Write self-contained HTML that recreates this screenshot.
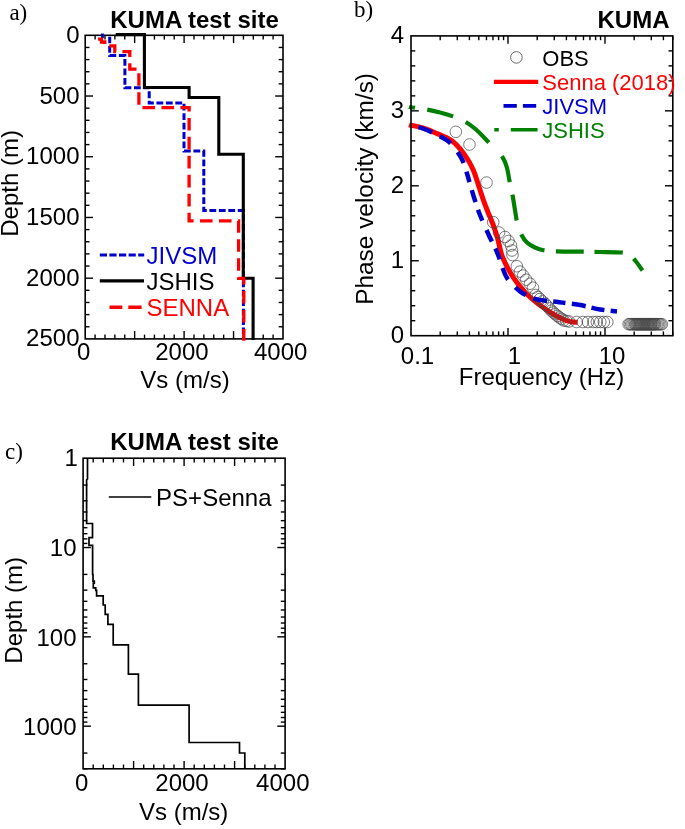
<!DOCTYPE html>
<html><head><meta charset="utf-8"><style>
html,body{margin:0;padding:0;background:#fff;width:685px;height:829px;overflow:hidden}
svg{display:block;will-change:transform}
</style></head><body>
<svg width="685" height="829" viewBox="0 0 685 829">
<rect width="685" height="829" fill="#fff"/>
<line x1="95.09" y1="35.30" x2="95.09" y2="39.60" stroke="#000" stroke-width="1.4"/>
<line x1="95.09" y1="338.90" x2="95.09" y2="334.60" stroke="#000" stroke-width="1.4"/>
<line x1="104.98" y1="35.30" x2="104.98" y2="39.60" stroke="#000" stroke-width="1.4"/>
<line x1="104.98" y1="338.90" x2="104.98" y2="334.60" stroke="#000" stroke-width="1.4"/>
<line x1="114.87" y1="35.30" x2="114.87" y2="39.60" stroke="#000" stroke-width="1.4"/>
<line x1="114.87" y1="338.90" x2="114.87" y2="334.60" stroke="#000" stroke-width="1.4"/>
<line x1="124.76" y1="35.30" x2="124.76" y2="39.60" stroke="#000" stroke-width="1.4"/>
<line x1="124.76" y1="338.90" x2="124.76" y2="334.60" stroke="#000" stroke-width="1.4"/>
<line x1="134.65" y1="35.30" x2="134.65" y2="43.10" stroke="#000" stroke-width="1.4"/>
<line x1="134.65" y1="338.90" x2="134.65" y2="331.10" stroke="#000" stroke-width="1.4"/>
<line x1="144.54" y1="35.30" x2="144.54" y2="39.60" stroke="#000" stroke-width="1.4"/>
<line x1="144.54" y1="338.90" x2="144.54" y2="334.60" stroke="#000" stroke-width="1.4"/>
<line x1="154.43" y1="35.30" x2="154.43" y2="39.60" stroke="#000" stroke-width="1.4"/>
<line x1="154.43" y1="338.90" x2="154.43" y2="334.60" stroke="#000" stroke-width="1.4"/>
<line x1="164.32" y1="35.30" x2="164.32" y2="39.60" stroke="#000" stroke-width="1.4"/>
<line x1="164.32" y1="338.90" x2="164.32" y2="334.60" stroke="#000" stroke-width="1.4"/>
<line x1="174.21" y1="35.30" x2="174.21" y2="39.60" stroke="#000" stroke-width="1.4"/>
<line x1="174.21" y1="338.90" x2="174.21" y2="334.60" stroke="#000" stroke-width="1.4"/>
<line x1="184.10" y1="35.30" x2="184.10" y2="43.10" stroke="#000" stroke-width="1.4"/>
<line x1="184.10" y1="338.90" x2="184.10" y2="331.10" stroke="#000" stroke-width="1.4"/>
<line x1="193.99" y1="35.30" x2="193.99" y2="39.60" stroke="#000" stroke-width="1.4"/>
<line x1="193.99" y1="338.90" x2="193.99" y2="334.60" stroke="#000" stroke-width="1.4"/>
<line x1="203.88" y1="35.30" x2="203.88" y2="39.60" stroke="#000" stroke-width="1.4"/>
<line x1="203.88" y1="338.90" x2="203.88" y2="334.60" stroke="#000" stroke-width="1.4"/>
<line x1="213.77" y1="35.30" x2="213.77" y2="39.60" stroke="#000" stroke-width="1.4"/>
<line x1="213.77" y1="338.90" x2="213.77" y2="334.60" stroke="#000" stroke-width="1.4"/>
<line x1="223.66" y1="35.30" x2="223.66" y2="39.60" stroke="#000" stroke-width="1.4"/>
<line x1="223.66" y1="338.90" x2="223.66" y2="334.60" stroke="#000" stroke-width="1.4"/>
<line x1="233.55" y1="35.30" x2="233.55" y2="43.10" stroke="#000" stroke-width="1.4"/>
<line x1="233.55" y1="338.90" x2="233.55" y2="331.10" stroke="#000" stroke-width="1.4"/>
<line x1="243.44" y1="35.30" x2="243.44" y2="39.60" stroke="#000" stroke-width="1.4"/>
<line x1="243.44" y1="338.90" x2="243.44" y2="334.60" stroke="#000" stroke-width="1.4"/>
<line x1="253.33" y1="35.30" x2="253.33" y2="39.60" stroke="#000" stroke-width="1.4"/>
<line x1="253.33" y1="338.90" x2="253.33" y2="334.60" stroke="#000" stroke-width="1.4"/>
<line x1="263.22" y1="35.30" x2="263.22" y2="39.60" stroke="#000" stroke-width="1.4"/>
<line x1="263.22" y1="338.90" x2="263.22" y2="334.60" stroke="#000" stroke-width="1.4"/>
<line x1="273.11" y1="35.30" x2="273.11" y2="39.60" stroke="#000" stroke-width="1.4"/>
<line x1="273.11" y1="338.90" x2="273.11" y2="334.60" stroke="#000" stroke-width="1.4"/>
<line x1="85.20" y1="47.44" x2="89.50" y2="47.44" stroke="#000" stroke-width="1.4"/>
<line x1="283.00" y1="47.44" x2="278.70" y2="47.44" stroke="#000" stroke-width="1.4"/>
<line x1="85.20" y1="59.59" x2="89.50" y2="59.59" stroke="#000" stroke-width="1.4"/>
<line x1="283.00" y1="59.59" x2="278.70" y2="59.59" stroke="#000" stroke-width="1.4"/>
<line x1="85.20" y1="71.73" x2="89.50" y2="71.73" stroke="#000" stroke-width="1.4"/>
<line x1="283.00" y1="71.73" x2="278.70" y2="71.73" stroke="#000" stroke-width="1.4"/>
<line x1="85.20" y1="83.88" x2="89.50" y2="83.88" stroke="#000" stroke-width="1.4"/>
<line x1="283.00" y1="83.88" x2="278.70" y2="83.88" stroke="#000" stroke-width="1.4"/>
<line x1="85.20" y1="96.02" x2="93.00" y2="96.02" stroke="#000" stroke-width="1.4"/>
<line x1="283.00" y1="96.02" x2="275.20" y2="96.02" stroke="#000" stroke-width="1.4"/>
<line x1="85.20" y1="108.16" x2="89.50" y2="108.16" stroke="#000" stroke-width="1.4"/>
<line x1="283.00" y1="108.16" x2="278.70" y2="108.16" stroke="#000" stroke-width="1.4"/>
<line x1="85.20" y1="120.31" x2="89.50" y2="120.31" stroke="#000" stroke-width="1.4"/>
<line x1="283.00" y1="120.31" x2="278.70" y2="120.31" stroke="#000" stroke-width="1.4"/>
<line x1="85.20" y1="132.45" x2="89.50" y2="132.45" stroke="#000" stroke-width="1.4"/>
<line x1="283.00" y1="132.45" x2="278.70" y2="132.45" stroke="#000" stroke-width="1.4"/>
<line x1="85.20" y1="144.60" x2="89.50" y2="144.60" stroke="#000" stroke-width="1.4"/>
<line x1="283.00" y1="144.60" x2="278.70" y2="144.60" stroke="#000" stroke-width="1.4"/>
<line x1="85.20" y1="156.74" x2="93.00" y2="156.74" stroke="#000" stroke-width="1.4"/>
<line x1="283.00" y1="156.74" x2="275.20" y2="156.74" stroke="#000" stroke-width="1.4"/>
<line x1="85.20" y1="168.88" x2="89.50" y2="168.88" stroke="#000" stroke-width="1.4"/>
<line x1="283.00" y1="168.88" x2="278.70" y2="168.88" stroke="#000" stroke-width="1.4"/>
<line x1="85.20" y1="181.03" x2="89.50" y2="181.03" stroke="#000" stroke-width="1.4"/>
<line x1="283.00" y1="181.03" x2="278.70" y2="181.03" stroke="#000" stroke-width="1.4"/>
<line x1="85.20" y1="193.17" x2="89.50" y2="193.17" stroke="#000" stroke-width="1.4"/>
<line x1="283.00" y1="193.17" x2="278.70" y2="193.17" stroke="#000" stroke-width="1.4"/>
<line x1="85.20" y1="205.32" x2="89.50" y2="205.32" stroke="#000" stroke-width="1.4"/>
<line x1="283.00" y1="205.32" x2="278.70" y2="205.32" stroke="#000" stroke-width="1.4"/>
<line x1="85.20" y1="217.46" x2="93.00" y2="217.46" stroke="#000" stroke-width="1.4"/>
<line x1="283.00" y1="217.46" x2="275.20" y2="217.46" stroke="#000" stroke-width="1.4"/>
<line x1="85.20" y1="229.60" x2="89.50" y2="229.60" stroke="#000" stroke-width="1.4"/>
<line x1="283.00" y1="229.60" x2="278.70" y2="229.60" stroke="#000" stroke-width="1.4"/>
<line x1="85.20" y1="241.75" x2="89.50" y2="241.75" stroke="#000" stroke-width="1.4"/>
<line x1="283.00" y1="241.75" x2="278.70" y2="241.75" stroke="#000" stroke-width="1.4"/>
<line x1="85.20" y1="253.89" x2="89.50" y2="253.89" stroke="#000" stroke-width="1.4"/>
<line x1="283.00" y1="253.89" x2="278.70" y2="253.89" stroke="#000" stroke-width="1.4"/>
<line x1="85.20" y1="266.04" x2="89.50" y2="266.04" stroke="#000" stroke-width="1.4"/>
<line x1="283.00" y1="266.04" x2="278.70" y2="266.04" stroke="#000" stroke-width="1.4"/>
<line x1="85.20" y1="278.18" x2="93.00" y2="278.18" stroke="#000" stroke-width="1.4"/>
<line x1="283.00" y1="278.18" x2="275.20" y2="278.18" stroke="#000" stroke-width="1.4"/>
<line x1="85.20" y1="290.32" x2="89.50" y2="290.32" stroke="#000" stroke-width="1.4"/>
<line x1="283.00" y1="290.32" x2="278.70" y2="290.32" stroke="#000" stroke-width="1.4"/>
<line x1="85.20" y1="302.47" x2="89.50" y2="302.47" stroke="#000" stroke-width="1.4"/>
<line x1="283.00" y1="302.47" x2="278.70" y2="302.47" stroke="#000" stroke-width="1.4"/>
<line x1="85.20" y1="314.61" x2="89.50" y2="314.61" stroke="#000" stroke-width="1.4"/>
<line x1="283.00" y1="314.61" x2="278.70" y2="314.61" stroke="#000" stroke-width="1.4"/>
<line x1="85.20" y1="326.76" x2="89.50" y2="326.76" stroke="#000" stroke-width="1.4"/>
<line x1="283.00" y1="326.76" x2="278.70" y2="326.76" stroke="#000" stroke-width="1.4"/>
<rect x="85.2" y="35.3" width="197.8" height="303.59999999999997" fill="none" stroke="#000" stroke-width="1.6"/>
<path d="M102.4 33.5 V38.2" fill="none" stroke="#0000cc" stroke-width="2.9" stroke-linecap="butt" stroke-linejoin="miter"/>
<path d="M109.7 36.8 V55.6 H124.9 V87.7 H149.2 V103 H184.0 V151 H203.8 V210.5 H243.4 V340" fill="none" stroke="#0000cc" stroke-width="3.0" stroke-linecap="butt" stroke-linejoin="miter" stroke-dasharray="6.8 2.64" stroke-dashoffset="0.34"/>
<path d="M115.7 34.6 H144.4 V87.5 H189.1 V97.5 H218.8 V154.3 H243.3 V278.3 H253.1 V340" fill="none" stroke="#000" stroke-width="3.1" stroke-linecap="butt" stroke-linejoin="miter"/>
<path d="M99.7 37.5 V39.2 H101.5 V42 H104.8 V45.9 H114.8 V51.7 H129.8 V69.2 H138.9 V107.6 H189.1 V220.9 H238.6 V278.3 H243.8 V340.8" fill="none" stroke="#ff0000" stroke-width="3.3" stroke-linecap="butt" stroke-linejoin="miter" stroke-dasharray="12.6 6.38" stroke-dashoffset="-17.95"/>
<text x="79.50" y="42.80" font-family='"Liberation Sans", sans-serif' font-size="24" text-anchor="end" font-weight="normal" fill="#000" >0</text>
<text x="79.50" y="103.52" font-family='"Liberation Sans", sans-serif' font-size="24" text-anchor="end" font-weight="normal" fill="#000" >500</text>
<text x="79.50" y="164.24" font-family='"Liberation Sans", sans-serif' font-size="24" text-anchor="end" font-weight="normal" fill="#000" >1000</text>
<text x="79.50" y="224.96" font-family='"Liberation Sans", sans-serif' font-size="24" text-anchor="end" font-weight="normal" fill="#000" >1500</text>
<text x="79.50" y="285.68" font-family='"Liberation Sans", sans-serif' font-size="24" text-anchor="end" font-weight="normal" fill="#000" >2000</text>
<text x="79.50" y="346.40" font-family='"Liberation Sans", sans-serif' font-size="24" text-anchor="end" font-weight="normal" fill="#000" >2500</text>
<text x="83.70" y="360.40" font-family='"Liberation Sans", sans-serif' font-size="24" text-anchor="middle" font-weight="normal" fill="#000" >0</text>
<text x="181.90" y="360.40" font-family='"Liberation Sans", sans-serif' font-size="24" text-anchor="middle" font-weight="normal" fill="#000" >2000</text>
<text x="280.70" y="360.40" font-family='"Liberation Sans", sans-serif' font-size="24" text-anchor="middle" font-weight="normal" fill="#000" >4000</text>
<text x="185.00" y="388.20" font-family='"Liberation Sans", sans-serif' font-size="24" text-anchor="middle" font-weight="normal" fill="#000" >Vs (m/s)</text>
<text x="0.00" y="0.00" font-family='"Liberation Sans", sans-serif' font-size="24" text-anchor="middle" font-weight="normal" fill="#000" transform="translate(18.1 183.4) rotate(-90)">Depth (m)</text>
<text x="194.50" y="27.70" font-family='"Liberation Sans", sans-serif' font-size="24" text-anchor="middle" font-weight="bold" fill="#000" >KUMA test site</text>
<text x="9.40" y="19.90" font-family='"Liberation Serif", serif' font-size="23" text-anchor="start" font-weight="normal" fill="#000" >a)</text>
<path d="M99.8 255 H144.2" fill="none" stroke="#0000cc" stroke-width="3.2" stroke-linecap="butt" stroke-linejoin="miter" stroke-dasharray="7.2 2.4" stroke-dashoffset="0"/>
<path d="M99.8 280.9 H144" fill="none" stroke="#000" stroke-width="3.3" stroke-linecap="butt" stroke-linejoin="miter"/>
<path d="M109.5 307.2 H122.3 M128.3 307.2 H141.6" fill="none" stroke="#ff0000" stroke-width="3.5" stroke-linecap="butt" stroke-linejoin="miter"/>
<text x="146.50" y="264.00" font-family='"Liberation Sans", sans-serif' font-size="24" text-anchor="start" font-weight="normal" fill="#0000cc" >JIVSM</text>
<text x="146.50" y="290.00" font-family='"Liberation Sans", sans-serif' font-size="24" text-anchor="start" font-weight="normal" fill="#000" >JSHIS</text>
<text x="146.50" y="316.00" font-family='"Liberation Sans", sans-serif' font-size="24" text-anchor="start" font-weight="normal" fill="#ff0000" >SENNA</text>
<line x1="440.20" y1="35.90" x2="440.20" y2="40.20" stroke="#000" stroke-width="1.4"/>
<line x1="440.20" y1="335.70" x2="440.20" y2="331.40" stroke="#000" stroke-width="1.4"/>
<line x1="457.28" y1="35.90" x2="457.28" y2="40.20" stroke="#000" stroke-width="1.4"/>
<line x1="457.28" y1="335.70" x2="457.28" y2="331.40" stroke="#000" stroke-width="1.4"/>
<line x1="469.40" y1="35.90" x2="469.40" y2="40.20" stroke="#000" stroke-width="1.4"/>
<line x1="469.40" y1="335.70" x2="469.40" y2="331.40" stroke="#000" stroke-width="1.4"/>
<line x1="478.80" y1="35.90" x2="478.80" y2="40.20" stroke="#000" stroke-width="1.4"/>
<line x1="478.80" y1="335.70" x2="478.80" y2="331.40" stroke="#000" stroke-width="1.4"/>
<line x1="486.48" y1="35.90" x2="486.48" y2="40.20" stroke="#000" stroke-width="1.4"/>
<line x1="486.48" y1="335.70" x2="486.48" y2="331.40" stroke="#000" stroke-width="1.4"/>
<line x1="492.97" y1="35.90" x2="492.97" y2="40.20" stroke="#000" stroke-width="1.4"/>
<line x1="492.97" y1="335.70" x2="492.97" y2="331.40" stroke="#000" stroke-width="1.4"/>
<line x1="498.60" y1="35.90" x2="498.60" y2="40.20" stroke="#000" stroke-width="1.4"/>
<line x1="498.60" y1="335.70" x2="498.60" y2="331.40" stroke="#000" stroke-width="1.4"/>
<line x1="503.56" y1="35.90" x2="503.56" y2="40.20" stroke="#000" stroke-width="1.4"/>
<line x1="503.56" y1="335.70" x2="503.56" y2="331.40" stroke="#000" stroke-width="1.4"/>
<line x1="508.00" y1="35.90" x2="508.00" y2="43.70" stroke="#000" stroke-width="1.4"/>
<line x1="508.00" y1="335.70" x2="508.00" y2="327.90" stroke="#000" stroke-width="1.4"/>
<line x1="537.20" y1="35.90" x2="537.20" y2="40.20" stroke="#000" stroke-width="1.4"/>
<line x1="537.20" y1="335.70" x2="537.20" y2="331.40" stroke="#000" stroke-width="1.4"/>
<line x1="554.28" y1="35.90" x2="554.28" y2="40.20" stroke="#000" stroke-width="1.4"/>
<line x1="554.28" y1="335.70" x2="554.28" y2="331.40" stroke="#000" stroke-width="1.4"/>
<line x1="566.40" y1="35.90" x2="566.40" y2="40.20" stroke="#000" stroke-width="1.4"/>
<line x1="566.40" y1="335.70" x2="566.40" y2="331.40" stroke="#000" stroke-width="1.4"/>
<line x1="575.80" y1="35.90" x2="575.80" y2="40.20" stroke="#000" stroke-width="1.4"/>
<line x1="575.80" y1="335.70" x2="575.80" y2="331.40" stroke="#000" stroke-width="1.4"/>
<line x1="583.48" y1="35.90" x2="583.48" y2="40.20" stroke="#000" stroke-width="1.4"/>
<line x1="583.48" y1="335.70" x2="583.48" y2="331.40" stroke="#000" stroke-width="1.4"/>
<line x1="589.97" y1="35.90" x2="589.97" y2="40.20" stroke="#000" stroke-width="1.4"/>
<line x1="589.97" y1="335.70" x2="589.97" y2="331.40" stroke="#000" stroke-width="1.4"/>
<line x1="595.60" y1="35.90" x2="595.60" y2="40.20" stroke="#000" stroke-width="1.4"/>
<line x1="595.60" y1="335.70" x2="595.60" y2="331.40" stroke="#000" stroke-width="1.4"/>
<line x1="600.56" y1="35.90" x2="600.56" y2="40.20" stroke="#000" stroke-width="1.4"/>
<line x1="600.56" y1="335.70" x2="600.56" y2="331.40" stroke="#000" stroke-width="1.4"/>
<line x1="605.00" y1="35.90" x2="605.00" y2="43.70" stroke="#000" stroke-width="1.4"/>
<line x1="605.00" y1="335.70" x2="605.00" y2="327.90" stroke="#000" stroke-width="1.4"/>
<line x1="634.20" y1="35.90" x2="634.20" y2="40.20" stroke="#000" stroke-width="1.4"/>
<line x1="634.20" y1="335.70" x2="634.20" y2="331.40" stroke="#000" stroke-width="1.4"/>
<line x1="651.28" y1="35.90" x2="651.28" y2="40.20" stroke="#000" stroke-width="1.4"/>
<line x1="651.28" y1="335.70" x2="651.28" y2="331.40" stroke="#000" stroke-width="1.4"/>
<line x1="663.40" y1="35.90" x2="663.40" y2="40.20" stroke="#000" stroke-width="1.4"/>
<line x1="663.40" y1="335.70" x2="663.40" y2="331.40" stroke="#000" stroke-width="1.4"/>
<line x1="672.80" y1="35.90" x2="672.80" y2="40.20" stroke="#000" stroke-width="1.4"/>
<line x1="672.80" y1="335.70" x2="672.80" y2="331.40" stroke="#000" stroke-width="1.4"/>
<line x1="411.00" y1="320.71" x2="415.30" y2="320.71" stroke="#000" stroke-width="1.4"/>
<line x1="672.80" y1="320.71" x2="668.50" y2="320.71" stroke="#000" stroke-width="1.4"/>
<line x1="411.00" y1="305.72" x2="415.30" y2="305.72" stroke="#000" stroke-width="1.4"/>
<line x1="672.80" y1="305.72" x2="668.50" y2="305.72" stroke="#000" stroke-width="1.4"/>
<line x1="411.00" y1="290.73" x2="415.30" y2="290.73" stroke="#000" stroke-width="1.4"/>
<line x1="672.80" y1="290.73" x2="668.50" y2="290.73" stroke="#000" stroke-width="1.4"/>
<line x1="411.00" y1="275.74" x2="415.30" y2="275.74" stroke="#000" stroke-width="1.4"/>
<line x1="672.80" y1="275.74" x2="668.50" y2="275.74" stroke="#000" stroke-width="1.4"/>
<line x1="411.00" y1="260.75" x2="418.80" y2="260.75" stroke="#000" stroke-width="1.4"/>
<line x1="672.80" y1="260.75" x2="665.00" y2="260.75" stroke="#000" stroke-width="1.4"/>
<line x1="411.00" y1="245.76" x2="415.30" y2="245.76" stroke="#000" stroke-width="1.4"/>
<line x1="672.80" y1="245.76" x2="668.50" y2="245.76" stroke="#000" stroke-width="1.4"/>
<line x1="411.00" y1="230.77" x2="415.30" y2="230.77" stroke="#000" stroke-width="1.4"/>
<line x1="672.80" y1="230.77" x2="668.50" y2="230.77" stroke="#000" stroke-width="1.4"/>
<line x1="411.00" y1="215.78" x2="415.30" y2="215.78" stroke="#000" stroke-width="1.4"/>
<line x1="672.80" y1="215.78" x2="668.50" y2="215.78" stroke="#000" stroke-width="1.4"/>
<line x1="411.00" y1="200.79" x2="415.30" y2="200.79" stroke="#000" stroke-width="1.4"/>
<line x1="672.80" y1="200.79" x2="668.50" y2="200.79" stroke="#000" stroke-width="1.4"/>
<line x1="411.00" y1="185.80" x2="418.80" y2="185.80" stroke="#000" stroke-width="1.4"/>
<line x1="672.80" y1="185.80" x2="665.00" y2="185.80" stroke="#000" stroke-width="1.4"/>
<line x1="411.00" y1="170.81" x2="415.30" y2="170.81" stroke="#000" stroke-width="1.4"/>
<line x1="672.80" y1="170.81" x2="668.50" y2="170.81" stroke="#000" stroke-width="1.4"/>
<line x1="411.00" y1="155.82" x2="415.30" y2="155.82" stroke="#000" stroke-width="1.4"/>
<line x1="672.80" y1="155.82" x2="668.50" y2="155.82" stroke="#000" stroke-width="1.4"/>
<line x1="411.00" y1="140.83" x2="415.30" y2="140.83" stroke="#000" stroke-width="1.4"/>
<line x1="672.80" y1="140.83" x2="668.50" y2="140.83" stroke="#000" stroke-width="1.4"/>
<line x1="411.00" y1="125.84" x2="415.30" y2="125.84" stroke="#000" stroke-width="1.4"/>
<line x1="672.80" y1="125.84" x2="668.50" y2="125.84" stroke="#000" stroke-width="1.4"/>
<line x1="411.00" y1="110.85" x2="418.80" y2="110.85" stroke="#000" stroke-width="1.4"/>
<line x1="672.80" y1="110.85" x2="665.00" y2="110.85" stroke="#000" stroke-width="1.4"/>
<line x1="411.00" y1="95.86" x2="415.30" y2="95.86" stroke="#000" stroke-width="1.4"/>
<line x1="672.80" y1="95.86" x2="668.50" y2="95.86" stroke="#000" stroke-width="1.4"/>
<line x1="411.00" y1="80.87" x2="415.30" y2="80.87" stroke="#000" stroke-width="1.4"/>
<line x1="672.80" y1="80.87" x2="668.50" y2="80.87" stroke="#000" stroke-width="1.4"/>
<line x1="411.00" y1="65.88" x2="415.30" y2="65.88" stroke="#000" stroke-width="1.4"/>
<line x1="672.80" y1="65.88" x2="668.50" y2="65.88" stroke="#000" stroke-width="1.4"/>
<line x1="411.00" y1="50.89" x2="415.30" y2="50.89" stroke="#000" stroke-width="1.4"/>
<line x1="672.80" y1="50.89" x2="668.50" y2="50.89" stroke="#000" stroke-width="1.4"/>
<path d="M409.0 106.9 C409.3 107.0 408.0 106.8 411.0 107.2 C414.0 107.7 422.4 108.7 427.2 109.6 C432.0 110.5 435.7 111.4 440.0 112.5 C444.3 113.6 448.6 114.8 452.9 116.4 C457.2 118.0 461.8 119.8 465.7 122.0 C469.6 124.2 472.8 126.8 476.0 129.5 C479.2 132.2 482.0 135.4 485.0 138.5 C488.0 141.6 491.0 144.8 494.0 148.0 C497.0 151.2 500.8 154.7 503.0 158.0 C505.2 161.3 505.9 164.2 507.0 168.0 C508.1 171.8 508.6 176.5 509.5 181.0 C510.4 185.5 511.5 189.8 512.5 195.0 C513.5 200.2 514.5 207.2 515.3 212.0 C516.1 216.8 516.4 220.1 517.5 224.0 C518.6 227.9 520.1 232.1 521.7 235.2 C523.3 238.3 524.8 240.4 527.0 242.5 C529.2 244.6 532.2 246.2 535.0 247.5 C537.8 248.8 540.1 249.7 543.6 250.3 C547.1 250.9 549.4 251.1 556.0 251.3 C562.6 251.5 575.7 251.6 583.0 251.7 C590.3 251.8 593.6 251.9 600.0 252.0 C606.4 252.1 616.6 251.9 621.6 252.5 C626.6 253.1 627.6 254.0 630.0 255.5 C632.4 257.0 633.9 259.0 636.0 261.5 C638.1 264.0 641.4 269.0 642.5 270.5" fill="none" stroke="#008000" stroke-width="4.2" stroke-linecap="butt" stroke-linejoin="miter" stroke-dasharray="6.25 12.25 26.75 13.75 31.00 18.75 27.50 12.75 26.25 14.50 29.50 11.50 27.75 11.00 28.00 13.00 15.25 2000.00" stroke-dashoffset="0"/>
<path d="M409.0 124.9 C409.3 125.0 409.3 124.9 411.0 125.2 C412.7 125.5 416.1 126.1 419.0 126.9 C421.9 127.7 425.3 128.7 428.4 129.9 C431.5 131.1 434.8 132.7 437.7 133.9 C440.6 135.1 443.6 136.1 445.9 137.2 C448.2 138.3 449.6 139.2 451.5 140.6 C453.4 142.0 455.3 143.7 457.3 145.8 C459.3 147.9 461.7 150.8 463.5 153.2 C465.3 155.6 466.6 157.8 468.0 160.0 C469.4 162.2 470.5 164.3 471.6 166.5 C472.7 168.7 473.4 170.0 474.6 173.3 C475.8 176.6 477.4 182.1 478.9 186.5 C480.3 190.9 481.7 195.4 483.3 199.8 C484.9 204.2 486.9 209.5 488.3 213.0 C489.7 216.5 490.6 218.2 491.7 221.0 C492.8 223.8 494.0 227.0 495.0 230.0 C496.0 233.0 496.9 235.7 497.8 239.0 C498.7 242.3 499.5 246.8 500.4 250.0 C501.2 253.2 501.4 254.6 502.9 258.1 C504.4 261.7 507.1 267.1 509.5 271.3 C511.9 275.5 514.5 279.4 517.3 283.1 C520.1 286.8 523.8 290.7 526.5 293.6 C529.2 296.5 531.1 298.1 533.8 300.3 C536.5 302.6 539.6 305.0 542.5 307.1 C545.4 309.2 548.7 311.4 551.3 313.0 C553.9 314.6 555.5 315.5 558.0 316.8 C560.5 318.1 564.2 319.9 566.5 320.7 C568.8 321.5 569.7 321.5 571.5 321.8 C573.3 322.1 576.5 322.3 577.5 322.4" fill="none" stroke="#ff0000" stroke-width="5.0" stroke-linecap="butt" stroke-linejoin="miter"/>
<g fill="none" stroke="#444" stroke-width="0.7"><circle cx="455.8" cy="131.8" r="5.8"/><circle cx="469.5" cy="144.5" r="5.8"/><circle cx="486.5" cy="182.6" r="5.8"/><circle cx="493.2" cy="222.2" r="5.8"/><circle cx="499.0" cy="232.5" r="5.8"/><circle cx="505.0" cy="237.0" r="5.8"/><circle cx="508.5" cy="241.0" r="5.8"/><circle cx="511.0" cy="245.5" r="5.8"/><circle cx="512.0" cy="250.5" r="5.8"/><circle cx="512.5" cy="255.0" r="5.8"/><circle cx="516.8" cy="266.2" r="5.8"/><circle cx="520.0" cy="271.6" r="5.8"/><circle cx="523.2" cy="275.6" r="5.8"/><circle cx="526.2" cy="279.7" r="5.8"/><circle cx="530.0" cy="283.7" r="5.8"/><circle cx="533.0" cy="287.7" r="5.8"/><circle cx="535.6" cy="295.0" r="5.8"/><circle cx="537.8" cy="297.0" r="5.8"/><circle cx="540.0" cy="299.0" r="5.8"/><circle cx="542.6" cy="301.4" r="5.8"/><circle cx="545.2" cy="303.7" r="5.8"/><circle cx="547.2" cy="306.0" r="5.8"/><circle cx="549.3" cy="308.4" r="5.8"/><circle cx="551.3" cy="310.7" r="5.8"/><circle cx="553.4" cy="312.5" r="5.8"/><circle cx="555.4" cy="314.2" r="5.8"/><circle cx="557.5" cy="316.0" r="5.8"/><circle cx="559.5" cy="317.5" r="5.8"/><circle cx="561.6" cy="318.9" r="5.8"/><circle cx="563.6" cy="320.4" r="5.8"/><circle cx="566.3" cy="320.9" r="5.8"/><circle cx="569.0" cy="321.5" r="5.8"/><circle cx="576.6" cy="322.0" r="5.8"/><circle cx="582.8" cy="322.0" r="5.8"/><circle cx="588.0" cy="322.0" r="5.8"/><circle cx="593.3" cy="322.0" r="5.8"/><circle cx="596.8" cy="322.0" r="5.8"/><circle cx="600.3" cy="322.0" r="5.8"/><circle cx="603.8" cy="322.0" r="5.8"/><circle cx="607.3" cy="322.0" r="5.8"/><circle cx="628.6" cy="324.2" r="5.8"/><circle cx="629.9" cy="324.2" r="5.8"/><circle cx="631.2" cy="324.2" r="5.8"/><circle cx="632.5" cy="324.2" r="5.8"/><circle cx="633.8" cy="324.2" r="5.8"/><circle cx="635.1" cy="324.2" r="5.8"/><circle cx="635.8" cy="324.2" r="5.8"/><circle cx="636.6" cy="324.2" r="5.8"/><circle cx="637.3" cy="324.2" r="5.8"/><circle cx="638.1" cy="324.2" r="5.8"/><circle cx="638.8" cy="324.2" r="5.8"/><circle cx="639.6" cy="324.2" r="5.8"/><circle cx="640.3" cy="324.2" r="5.8"/><circle cx="641.1" cy="324.2" r="5.8"/><circle cx="641.8" cy="324.2" r="5.8"/><circle cx="642.6" cy="324.2" r="5.8"/><circle cx="643.3" cy="324.2" r="5.8"/><circle cx="644.1" cy="324.2" r="5.8"/><circle cx="644.8" cy="324.2" r="5.8"/><circle cx="645.6" cy="324.2" r="5.8"/><circle cx="646.3" cy="324.2" r="5.8"/><circle cx="647.1" cy="324.2" r="5.8"/><circle cx="647.8" cy="324.2" r="5.8"/><circle cx="648.6" cy="324.2" r="5.8"/><circle cx="649.3" cy="324.2" r="5.8"/><circle cx="650.1" cy="324.2" r="5.8"/><circle cx="650.8" cy="324.2" r="5.8"/><circle cx="651.6" cy="324.2" r="5.8"/><circle cx="652.3" cy="324.2" r="5.8"/><circle cx="653.1" cy="324.2" r="5.8"/><circle cx="653.8" cy="324.2" r="5.8"/><circle cx="654.6" cy="324.2" r="5.8"/><circle cx="655.3" cy="324.2" r="5.8"/><circle cx="656.6" cy="324.2" r="5.8"/><circle cx="657.9" cy="324.2" r="5.8"/><circle cx="659.2" cy="324.2" r="5.8"/><circle cx="660.5" cy="324.2" r="5.8"/><circle cx="661.8" cy="324.2" r="5.8"/></g>
<path d="M409.0 124.9 C409.3 125.0 408.2 124.4 411.0 125.2 C413.8 126.0 419.8 127.2 425.5 129.5 C431.2 131.8 440.4 136.4 445.0 139.2 C449.6 141.9 450.3 142.9 453.0 146.0 C455.7 149.1 459.1 154.1 461.1 157.6 C463.1 161.1 463.9 163.8 465.0 167.0 C466.1 170.2 466.6 172.1 468.0 176.9 C469.4 181.8 471.6 189.7 473.6 196.1 C475.6 202.5 477.5 208.7 480.1 215.3 C482.7 221.9 486.1 229.1 489.0 235.5 C491.9 241.9 495.0 247.2 497.6 253.6 C500.2 260.0 502.7 269.0 504.9 273.9 C507.1 278.8 508.4 280.1 511.0 283.0 C513.6 285.9 517.1 289.3 520.3 291.6 C523.5 293.9 526.8 295.6 530.0 297.0 C533.2 298.4 534.9 299.0 539.7 299.9 C544.5 300.8 552.5 301.4 559.0 302.2 C565.5 303.0 571.9 303.6 578.8 304.8 C585.7 306.0 593.8 308.4 600.2 309.5 C606.6 310.6 614.2 311.1 617.0 311.4" fill="none" stroke="#0000cc" stroke-width="4.5" stroke-linecap="butt" stroke-linejoin="miter" stroke-dasharray="0.00 10.00 14.50 8.50 13.25 11.00 12.50 9.00 11.00 8.25 12.75 8.00 11.75 10.00 12.75 8.00 11.75 9.00 12.75 10.75 13.00 8.25 14.00 6.00 12.50 6.50 14.00 5.75 13.25 6.25 7.00 2000.00" stroke-dashoffset="0"/>
<rect x="411.0" y="35.9" width="261.79999999999995" height="299.8" fill="none" stroke="#000" stroke-width="1.6"/>
<text x="404.00" y="343.20" font-family='"Liberation Sans", sans-serif' font-size="24" text-anchor="end" font-weight="normal" fill="#000" >0</text>
<text x="404.00" y="268.25" font-family='"Liberation Sans", sans-serif' font-size="24" text-anchor="end" font-weight="normal" fill="#000" >1</text>
<text x="404.00" y="193.30" font-family='"Liberation Sans", sans-serif' font-size="24" text-anchor="end" font-weight="normal" fill="#000" >2</text>
<text x="404.00" y="118.35" font-family='"Liberation Sans", sans-serif' font-size="24" text-anchor="end" font-weight="normal" fill="#000" >3</text>
<text x="404.00" y="43.40" font-family='"Liberation Sans", sans-serif' font-size="24" text-anchor="end" font-weight="normal" fill="#000" >4</text>
<text x="417.50" y="363.80" font-family='"Liberation Sans", sans-serif' font-size="24" text-anchor="middle" font-weight="normal" fill="#000" >0.1</text>
<text x="514.50" y="363.80" font-family='"Liberation Sans", sans-serif' font-size="24" text-anchor="middle" font-weight="normal" fill="#000" >1</text>
<text x="612.00" y="363.80" font-family='"Liberation Sans", sans-serif' font-size="24" text-anchor="middle" font-weight="normal" fill="#000" >10</text>
<text x="541.50" y="385.10" font-family='"Liberation Sans", sans-serif' font-size="24" text-anchor="middle" font-weight="normal" fill="#000" >Frequency (Hz)</text>
<text x="0.00" y="0.00" font-family='"Liberation Sans", sans-serif' font-size="24.4" text-anchor="middle" font-weight="normal" fill="#000" transform="translate(373.1 188.9) rotate(-90)">Phase velocity (km/s)</text>
<text x="669.50" y="28.00" font-family='"Liberation Sans", sans-serif' font-size="24" text-anchor="end" font-weight="bold" fill="#000" >KUMA</text>
<text x="354.00" y="17.00" font-family='"Liberation Serif", serif' font-size="23" text-anchor="start" font-weight="normal" fill="#000" >b)</text>
<circle cx="516.4" cy="57.4" r="5.8" fill="none" stroke="#444" stroke-width="0.8"/>
<text x="542.30" y="66.30" font-family='"Liberation Sans", sans-serif' font-size="22" text-anchor="start" font-weight="normal" fill="#000" >OBS</text>
<path d="M493.9 81.9 H538.2" fill="none" stroke="#ff0000" stroke-width="4.2" stroke-linecap="butt" stroke-linejoin="miter"/>
<text x="542.30" y="89.90" font-family='"Liberation Sans", sans-serif' font-size="22" text-anchor="start" font-weight="normal" fill="#ff0000" >Senna (2018)</text>
<path d="M503.5 105.8 H516.8 M522.9 105.8 H536.2" fill="none" stroke="#0000cc" stroke-width="3.8" stroke-linecap="butt" stroke-linejoin="miter"/>
<text x="542.30" y="114.00" font-family='"Liberation Sans", sans-serif' font-size="22" text-anchor="start" font-weight="normal" fill="#0000cc" >JIVSM</text>
<path d="M494.3 129.8 H498.8 M510.8 129.8 H537.6" fill="none" stroke="#008000" stroke-width="3.6" stroke-linecap="butt" stroke-linejoin="miter"/>
<text x="542.30" y="138.00" font-family='"Liberation Sans", sans-serif' font-size="22" text-anchor="start" font-weight="normal" fill="#008000" >JSHIS</text>
<line x1="93.20" y1="458.20" x2="93.20" y2="462.50" stroke="#000" stroke-width="1.4"/>
<line x1="93.20" y1="768.80" x2="93.20" y2="764.50" stroke="#000" stroke-width="1.4"/>
<line x1="103.30" y1="458.20" x2="103.30" y2="462.50" stroke="#000" stroke-width="1.4"/>
<line x1="103.30" y1="768.80" x2="103.30" y2="764.50" stroke="#000" stroke-width="1.4"/>
<line x1="113.40" y1="458.20" x2="113.40" y2="462.50" stroke="#000" stroke-width="1.4"/>
<line x1="113.40" y1="768.80" x2="113.40" y2="764.50" stroke="#000" stroke-width="1.4"/>
<line x1="123.50" y1="458.20" x2="123.50" y2="462.50" stroke="#000" stroke-width="1.4"/>
<line x1="123.50" y1="768.80" x2="123.50" y2="764.50" stroke="#000" stroke-width="1.4"/>
<line x1="133.60" y1="458.20" x2="133.60" y2="466.00" stroke="#000" stroke-width="1.4"/>
<line x1="133.60" y1="768.80" x2="133.60" y2="761.00" stroke="#000" stroke-width="1.4"/>
<line x1="143.70" y1="458.20" x2="143.70" y2="462.50" stroke="#000" stroke-width="1.4"/>
<line x1="143.70" y1="768.80" x2="143.70" y2="764.50" stroke="#000" stroke-width="1.4"/>
<line x1="153.80" y1="458.20" x2="153.80" y2="462.50" stroke="#000" stroke-width="1.4"/>
<line x1="153.80" y1="768.80" x2="153.80" y2="764.50" stroke="#000" stroke-width="1.4"/>
<line x1="163.90" y1="458.20" x2="163.90" y2="462.50" stroke="#000" stroke-width="1.4"/>
<line x1="163.90" y1="768.80" x2="163.90" y2="764.50" stroke="#000" stroke-width="1.4"/>
<line x1="174.00" y1="458.20" x2="174.00" y2="462.50" stroke="#000" stroke-width="1.4"/>
<line x1="174.00" y1="768.80" x2="174.00" y2="764.50" stroke="#000" stroke-width="1.4"/>
<line x1="184.10" y1="458.20" x2="184.10" y2="466.00" stroke="#000" stroke-width="1.4"/>
<line x1="184.10" y1="768.80" x2="184.10" y2="761.00" stroke="#000" stroke-width="1.4"/>
<line x1="194.20" y1="458.20" x2="194.20" y2="462.50" stroke="#000" stroke-width="1.4"/>
<line x1="194.20" y1="768.80" x2="194.20" y2="764.50" stroke="#000" stroke-width="1.4"/>
<line x1="204.30" y1="458.20" x2="204.30" y2="462.50" stroke="#000" stroke-width="1.4"/>
<line x1="204.30" y1="768.80" x2="204.30" y2="764.50" stroke="#000" stroke-width="1.4"/>
<line x1="214.40" y1="458.20" x2="214.40" y2="462.50" stroke="#000" stroke-width="1.4"/>
<line x1="214.40" y1="768.80" x2="214.40" y2="764.50" stroke="#000" stroke-width="1.4"/>
<line x1="224.50" y1="458.20" x2="224.50" y2="462.50" stroke="#000" stroke-width="1.4"/>
<line x1="224.50" y1="768.80" x2="224.50" y2="764.50" stroke="#000" stroke-width="1.4"/>
<line x1="234.60" y1="458.20" x2="234.60" y2="466.00" stroke="#000" stroke-width="1.4"/>
<line x1="234.60" y1="768.80" x2="234.60" y2="761.00" stroke="#000" stroke-width="1.4"/>
<line x1="244.70" y1="458.20" x2="244.70" y2="462.50" stroke="#000" stroke-width="1.4"/>
<line x1="244.70" y1="768.80" x2="244.70" y2="764.50" stroke="#000" stroke-width="1.4"/>
<line x1="254.80" y1="458.20" x2="254.80" y2="462.50" stroke="#000" stroke-width="1.4"/>
<line x1="254.80" y1="768.80" x2="254.80" y2="764.50" stroke="#000" stroke-width="1.4"/>
<line x1="264.90" y1="458.20" x2="264.90" y2="462.50" stroke="#000" stroke-width="1.4"/>
<line x1="264.90" y1="768.80" x2="264.90" y2="764.50" stroke="#000" stroke-width="1.4"/>
<line x1="275.00" y1="458.20" x2="275.00" y2="462.50" stroke="#000" stroke-width="1.4"/>
<line x1="275.00" y1="768.80" x2="275.00" y2="764.50" stroke="#000" stroke-width="1.4"/>
<line x1="83.10" y1="485.09" x2="87.40" y2="485.09" stroke="#000" stroke-width="1.4"/>
<line x1="285.10" y1="485.09" x2="280.80" y2="485.09" stroke="#000" stroke-width="1.4"/>
<line x1="83.10" y1="500.82" x2="87.40" y2="500.82" stroke="#000" stroke-width="1.4"/>
<line x1="285.10" y1="500.82" x2="280.80" y2="500.82" stroke="#000" stroke-width="1.4"/>
<line x1="83.10" y1="511.98" x2="87.40" y2="511.98" stroke="#000" stroke-width="1.4"/>
<line x1="285.10" y1="511.98" x2="280.80" y2="511.98" stroke="#000" stroke-width="1.4"/>
<line x1="83.10" y1="520.64" x2="87.40" y2="520.64" stroke="#000" stroke-width="1.4"/>
<line x1="285.10" y1="520.64" x2="280.80" y2="520.64" stroke="#000" stroke-width="1.4"/>
<line x1="83.10" y1="527.71" x2="87.40" y2="527.71" stroke="#000" stroke-width="1.4"/>
<line x1="285.10" y1="527.71" x2="280.80" y2="527.71" stroke="#000" stroke-width="1.4"/>
<line x1="83.10" y1="533.69" x2="87.40" y2="533.69" stroke="#000" stroke-width="1.4"/>
<line x1="285.10" y1="533.69" x2="280.80" y2="533.69" stroke="#000" stroke-width="1.4"/>
<line x1="83.10" y1="538.87" x2="87.40" y2="538.87" stroke="#000" stroke-width="1.4"/>
<line x1="285.10" y1="538.87" x2="280.80" y2="538.87" stroke="#000" stroke-width="1.4"/>
<line x1="83.10" y1="543.44" x2="87.40" y2="543.44" stroke="#000" stroke-width="1.4"/>
<line x1="285.10" y1="543.44" x2="280.80" y2="543.44" stroke="#000" stroke-width="1.4"/>
<line x1="83.10" y1="547.53" x2="90.90" y2="547.53" stroke="#000" stroke-width="1.4"/>
<line x1="285.10" y1="547.53" x2="277.30" y2="547.53" stroke="#000" stroke-width="1.4"/>
<line x1="83.10" y1="574.42" x2="87.40" y2="574.42" stroke="#000" stroke-width="1.4"/>
<line x1="285.10" y1="574.42" x2="280.80" y2="574.42" stroke="#000" stroke-width="1.4"/>
<line x1="83.10" y1="590.15" x2="87.40" y2="590.15" stroke="#000" stroke-width="1.4"/>
<line x1="285.10" y1="590.15" x2="280.80" y2="590.15" stroke="#000" stroke-width="1.4"/>
<line x1="83.10" y1="601.31" x2="87.40" y2="601.31" stroke="#000" stroke-width="1.4"/>
<line x1="285.10" y1="601.31" x2="280.80" y2="601.31" stroke="#000" stroke-width="1.4"/>
<line x1="83.10" y1="609.96" x2="87.40" y2="609.96" stroke="#000" stroke-width="1.4"/>
<line x1="285.10" y1="609.96" x2="280.80" y2="609.96" stroke="#000" stroke-width="1.4"/>
<line x1="83.10" y1="617.04" x2="87.40" y2="617.04" stroke="#000" stroke-width="1.4"/>
<line x1="285.10" y1="617.04" x2="280.80" y2="617.04" stroke="#000" stroke-width="1.4"/>
<line x1="83.10" y1="623.02" x2="87.40" y2="623.02" stroke="#000" stroke-width="1.4"/>
<line x1="285.10" y1="623.02" x2="280.80" y2="623.02" stroke="#000" stroke-width="1.4"/>
<line x1="83.10" y1="628.20" x2="87.40" y2="628.20" stroke="#000" stroke-width="1.4"/>
<line x1="285.10" y1="628.20" x2="280.80" y2="628.20" stroke="#000" stroke-width="1.4"/>
<line x1="83.10" y1="632.77" x2="87.40" y2="632.77" stroke="#000" stroke-width="1.4"/>
<line x1="285.10" y1="632.77" x2="280.80" y2="632.77" stroke="#000" stroke-width="1.4"/>
<line x1="83.10" y1="636.85" x2="90.90" y2="636.85" stroke="#000" stroke-width="1.4"/>
<line x1="285.10" y1="636.85" x2="277.30" y2="636.85" stroke="#000" stroke-width="1.4"/>
<line x1="83.10" y1="663.74" x2="87.40" y2="663.74" stroke="#000" stroke-width="1.4"/>
<line x1="285.10" y1="663.74" x2="280.80" y2="663.74" stroke="#000" stroke-width="1.4"/>
<line x1="83.10" y1="679.47" x2="87.40" y2="679.47" stroke="#000" stroke-width="1.4"/>
<line x1="285.10" y1="679.47" x2="280.80" y2="679.47" stroke="#000" stroke-width="1.4"/>
<line x1="83.10" y1="690.63" x2="87.40" y2="690.63" stroke="#000" stroke-width="1.4"/>
<line x1="285.10" y1="690.63" x2="280.80" y2="690.63" stroke="#000" stroke-width="1.4"/>
<line x1="83.10" y1="699.29" x2="87.40" y2="699.29" stroke="#000" stroke-width="1.4"/>
<line x1="285.10" y1="699.29" x2="280.80" y2="699.29" stroke="#000" stroke-width="1.4"/>
<line x1="83.10" y1="706.36" x2="87.40" y2="706.36" stroke="#000" stroke-width="1.4"/>
<line x1="285.10" y1="706.36" x2="280.80" y2="706.36" stroke="#000" stroke-width="1.4"/>
<line x1="83.10" y1="712.34" x2="87.40" y2="712.34" stroke="#000" stroke-width="1.4"/>
<line x1="285.10" y1="712.34" x2="280.80" y2="712.34" stroke="#000" stroke-width="1.4"/>
<line x1="83.10" y1="717.52" x2="87.40" y2="717.52" stroke="#000" stroke-width="1.4"/>
<line x1="285.10" y1="717.52" x2="280.80" y2="717.52" stroke="#000" stroke-width="1.4"/>
<line x1="83.10" y1="722.09" x2="87.40" y2="722.09" stroke="#000" stroke-width="1.4"/>
<line x1="285.10" y1="722.09" x2="280.80" y2="722.09" stroke="#000" stroke-width="1.4"/>
<line x1="83.10" y1="726.18" x2="90.90" y2="726.18" stroke="#000" stroke-width="1.4"/>
<line x1="285.10" y1="726.18" x2="277.30" y2="726.18" stroke="#000" stroke-width="1.4"/>
<line x1="83.10" y1="753.07" x2="87.40" y2="753.07" stroke="#000" stroke-width="1.4"/>
<line x1="285.10" y1="753.07" x2="280.80" y2="753.07" stroke="#000" stroke-width="1.4"/>
<line x1="83.10" y1="768.80" x2="87.40" y2="768.80" stroke="#000" stroke-width="1.4"/>
<line x1="285.10" y1="768.80" x2="280.80" y2="768.80" stroke="#000" stroke-width="1.4"/>
<path d="M87.5 458.2 V479 L86.6 480 V523.5 H92.5 V537.7 H89.0 V545.3 H92.6 V574.5 L93.0 574.5 V581.2 H94.3 V583.1 H93.3 V587.8 H95.7 V590.4 H96.6 V595.8 H103.2 V605 H105.2 V614.3 H107.9 V624.3 H113.2 V644.8 H128.4 V674.2 H138.4 V705.2 H189.1 V742.5 H239.5 V753 H244.8 V768.8" fill="none" stroke="#000" stroke-width="1.7" stroke-linecap="butt" stroke-linejoin="miter"/>
<rect x="83.1" y="458.2" width="202.00000000000003" height="310.59999999999997" fill="none" stroke="#000" stroke-width="1.6"/>
<text x="77.80" y="466.20" font-family='"Liberation Sans", sans-serif' font-size="24" text-anchor="end" font-weight="normal" fill="#000" >1</text>
<text x="76.50" y="556.03" font-family='"Liberation Sans", sans-serif' font-size="24" text-anchor="end" font-weight="normal" fill="#000" >10</text>
<text x="76.50" y="645.85" font-family='"Liberation Sans", sans-serif' font-size="24" text-anchor="end" font-weight="normal" fill="#000" >100</text>
<text x="76.50" y="734.68" font-family='"Liberation Sans", sans-serif' font-size="24" text-anchor="end" font-weight="normal" fill="#000" >1000</text>
<text x="81.60" y="791.20" font-family='"Liberation Sans", sans-serif' font-size="24" text-anchor="middle" font-weight="normal" fill="#000" >0</text>
<text x="182.00" y="791.20" font-family='"Liberation Sans", sans-serif' font-size="24" text-anchor="middle" font-weight="normal" fill="#000" >2000</text>
<text x="282.80" y="791.20" font-family='"Liberation Sans", sans-serif' font-size="24" text-anchor="middle" font-weight="normal" fill="#000" >4000</text>
<text x="183.70" y="819.50" font-family='"Liberation Sans", sans-serif' font-size="24" text-anchor="middle" font-weight="normal" fill="#000" >Vs (m/s)</text>
<text x="0.00" y="0.00" font-family='"Liberation Sans", sans-serif' font-size="24" text-anchor="middle" font-weight="normal" fill="#000" transform="translate(22.2 610.3) rotate(-90)">Depth (m)</text>
<text x="194.50" y="450.40" font-family='"Liberation Sans", sans-serif' font-size="24" text-anchor="middle" font-weight="bold" fill="#000" >KUMA test site</text>
<text x="5.00" y="459.00" font-family='"Liberation Serif", serif' font-size="23" text-anchor="start" font-weight="normal" fill="#000" >c)</text>
<path d="M108.8 497 H151.3" fill="none" stroke="#000" stroke-width="1.7" stroke-linecap="butt" stroke-linejoin="miter"/>
<text x="156.10" y="506.40" font-family='"Liberation Sans", sans-serif' font-size="24" text-anchor="start" font-weight="normal" fill="#000" >PS+Senna</text>
</svg>
</body></html>
